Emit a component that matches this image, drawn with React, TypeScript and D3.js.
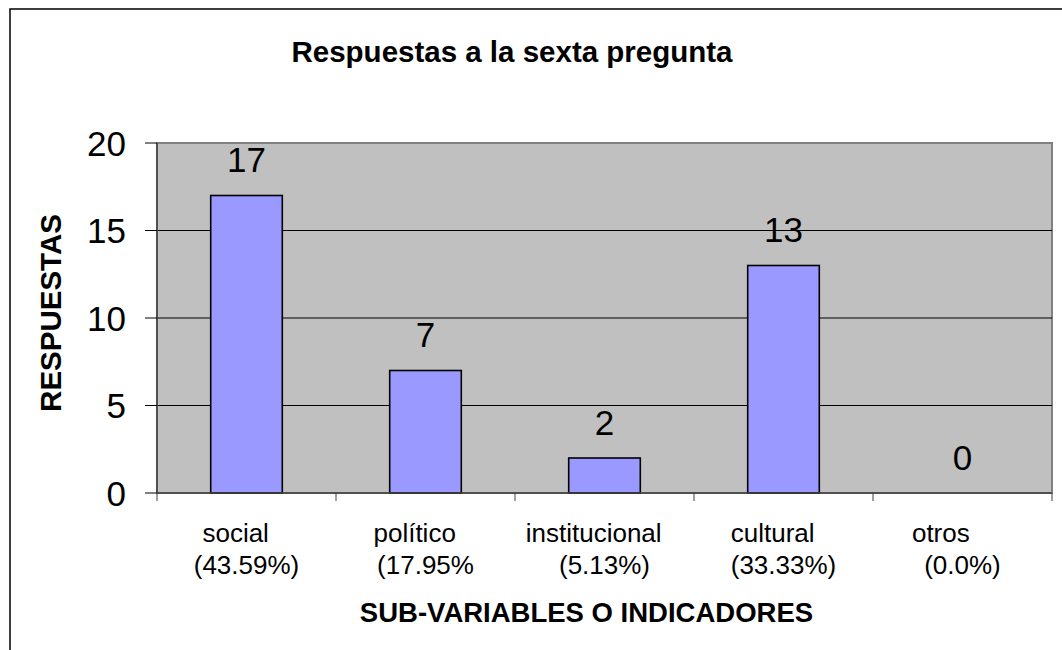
import * as d3 from "d3";

const categories = ["social", "político", "institucional", "cultural", "otros"];
const categoryLine1 = ["social   ", "político   ", "institucional   ", "cultural   ", "otros      "];
const categoryLine2 = ["(43.59%)", "(17.95%", "(5.13%)", "(33.33%)", "(0.0%)"];
const responses = [17, 7, 2, 13, 0];
const yTicks = [0, 5, 10, 15, 20];

const W = 1062;
const H = 650;
const plot = { left: 157, right: 1052, top: 143, bottom: 493 };
const font = "'Liberation Sans', Arial, Helvetica, sans-serif";

export default function App() {
  const x = d3
    .scaleBand<string>()
    .domain(categories)
    .range([plot.left, plot.right])
    .padding(0);
  const step = x.step();
  const barW = step * 0.4;

  const y = d3.scaleLinear().domain([0, 20]).range([plot.bottom, plot.top]);

  return (
    <svg
      width={W}
      height={H}
      style={{ position: "absolute", left: 0, top: 0, background: "#fff" }}
      fontFamily={font}
    >
      {/* outer chart border, runs off the right and bottom edges */}
      <rect x={10} y={9} width={1100} height={700} fill="#fff" stroke="#000" strokeWidth={1.5} />

      <text x={512} y={62} textAnchor="middle" fontSize={29.5} fontWeight="bold">
        Respuestas a la sexta pregunta
      </text>

      <rect
        x={plot.left}
        y={plot.top}
        width={plot.right - plot.left}
        height={plot.bottom - plot.top}
        fill="#C0C0C0"
        stroke="#808080"
        strokeWidth={2}
      />

      {/* gridlines */}
      {yTicks
        .filter((t) => t > 0 && t < 20)
        .map((t) => (
          <line key={t} x1={plot.left} x2={plot.right} y1={y(t)} y2={y(t)} stroke="#000" strokeWidth={1} />
        ))}

      {/* bars */}
      {categories.map((c, i) =>
        responses[i] > 0 ? (
          <rect
            key={c}
            x={x(c)! + (step - barW) / 2}
            y={y(responses[i])}
            width={barW}
            height={y(0) - y(responses[i])}
            fill="#9999FF"
            stroke="#000"
            strokeWidth={1.6}
          />
        ) : null
      )}

      {/* value labels */}
      {categories.map((c, i) => (
        <text key={c} x={x(c)! + step / 2} y={y(responses[i]) - 23.5} textAnchor="middle" fontSize={35}>
          {responses[i]}
        </text>
      ))}

      {/* y axis */}
      <line x1={plot.left} x2={plot.left} y1={plot.top} y2={plot.bottom} stroke="#404040" strokeWidth={1.5} />
      {yTicks.map((t) => (
        <g key={t}>
          <line x1={plot.left - 12} x2={plot.left} y1={y(t)} y2={y(t)} stroke="#000" strokeWidth={1} />
          <text x={126} y={y(t) + 12.5} textAnchor="end" fontSize={35}>
            {t}
          </text>
        </g>
      ))}

      {/* x axis */}
      <line x1={plot.left} x2={plot.right} y1={plot.bottom} y2={plot.bottom} stroke="#404040" strokeWidth={1.5} />
      {[...categories.map((c) => x(c)!), plot.right].map((px, i) => (
        <line key={i} x1={px} x2={px} y1={plot.bottom} y2={plot.bottom + 8} stroke="#404040" strokeWidth={1} />
      ))}
      {categories.map((c, i) => (
        <text
          key={c}
          textAnchor="middle"
          fontSize={26}
          xmlSpace="preserve"
          style={{ whiteSpace: "pre" }}
        >
          <tspan x={x(c)! + step / 2} y={542}>
            {categoryLine1[i]}
          </tspan>
          <tspan x={x(c)! + step / 2} y={574}>
            {categoryLine2[i]}
          </tspan>
        </text>
      ))}

      <text x={586.5} y={621.5} textAnchor="middle" fontSize={27.5} fontWeight="bold">
        SUB-VARIABLES O INDICADORES
      </text>

      <text
        transform={`translate(61,${313}) rotate(-90)`}
        textAnchor="middle"
        fontSize={29.5}
        fontWeight="bold"
      >
        RESPUESTAS
      </text>
    </svg>
  );
}
